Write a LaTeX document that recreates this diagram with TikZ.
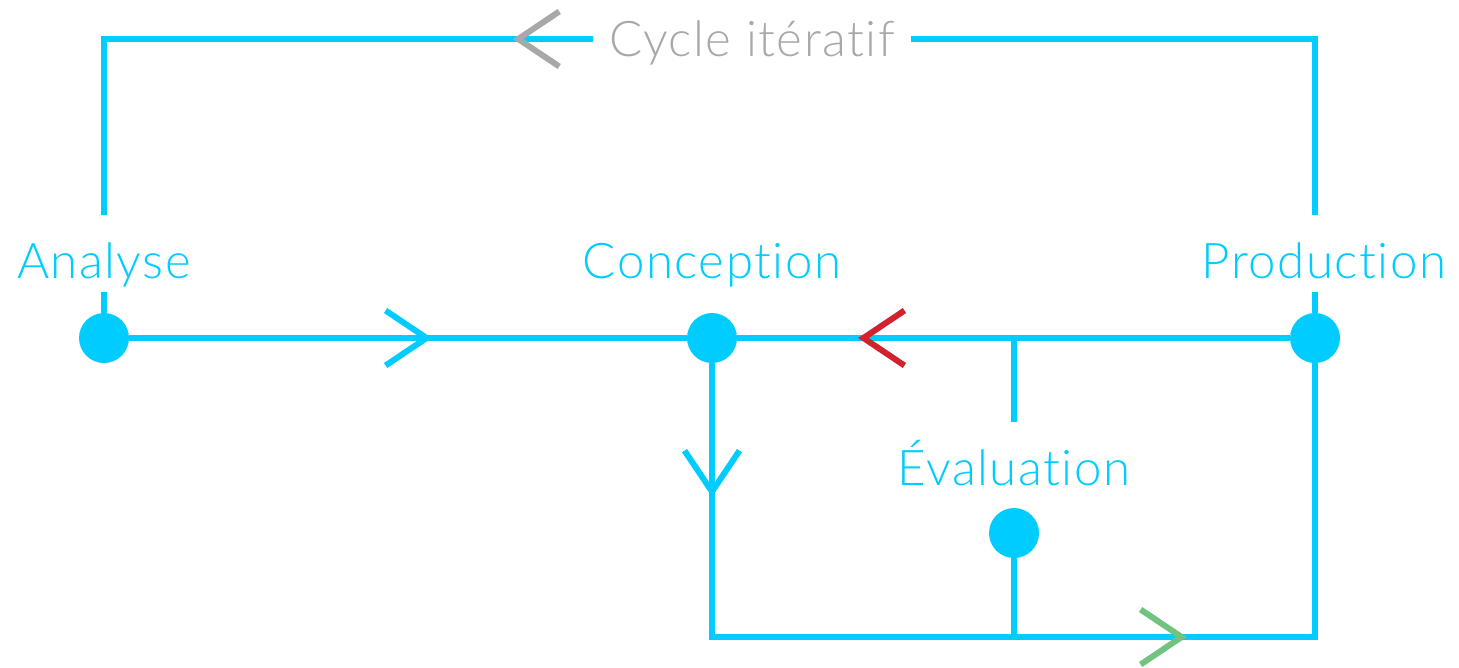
\documentclass[tikz,border=0pt]{standalone}
\usepackage{fontspec}
\IfFontExistsTF{Lato Light}
  {\setmainfont{Lato Light}[Ligatures=NoCommon, LetterSpace=3]}
  {\setmainfont{Lato}[Ligatures=NoCommon, LetterSpace=3]}
\usetikzlibrary{arrows.meta,decorations.markings,positioning}

\definecolor{sky}{RGB}{0,204,255}
\definecolor{loopgray}{RGB}{168,168,168}
\definecolor{backred}{RGB}{210,34,46}
\definecolor{fwdgreen}{RGB}{112,196,128}

\newcommand{\phasefont}{\fontsize{28}{32}\selectfont}

\begin{document}
\begin{tikzpicture}[x=0.02cm, y=-0.02cm, node distance=0.42cm]

\tikzstyle{dot} = [circle, fill=sky, minimum size=1cm, inner sep=0pt, outer sep=0pt]
\tikzstyle{phase} = [rectangle, text=sky, font=\phasefont, inner xsep=0.32cm, inner ysep=0pt, outer sep=0pt, text height=1.26cm, text depth=0.28cm]
\tikzstyle{loop} = [phase, text=loopgray, text height=0.88cm, text depth=0.2cm]
\tikzstyle{wire} = [draw=sky, line width=3.4pt]
\tikzset{chev/.tip={Straight Barb[length=0.82cm, width=1.1cm, line cap=butt, line join=miter]}}
\tikzset{flow/.style 2 args={postaction={decorate}, decoration={markings, mark=at position #1 with {\arrow[#2]{chev}}}}}

\useasboundingbox (0,0) rectangle (1459,667);

%% -- phases --
\node (ana) [dot] at (104,338) {};
\node (con) [dot] at (712,338) {};
\node (pro) [dot] at (1315,338) {};
\node (eva) [dot] at (1014,533) {};

\node (ana_lbl) [phase, above=of ana] {Analyse};
\node (con_lbl) [phase, above=of con] {Conception};
\node (pro_lbl) [phase, above=of pro, xshift=0.18cm] {Production};
\node (eva_lbl) [phase, above=0.18cm of eva] {Évaluation};
\node (cycle) [loop] at (752,39) {Cycle itératif};

\coordinate (eva_top) at (1014,338);
\coordinate (eva_bot) at (1014,637);

%% -- forward flow --
\draw [wire, flow={6.06cm}{sky}] (ana) -- (con);
\draw [wire, flow={2.68cm}{sky}] (con) |- (eva_bot);
\draw [wire, flow={3.46cm}{fwdgreen}] (eva_bot) -| (pro);

% back to conception
\draw [wire, flow={8.64cm}{backred}] (pro) -- (con);
\draw [wire] (eva_top) -- (eva_lbl);
\draw [wire] (eva) -- (eva_bot);

%% -- iterative loop --
\draw [wire] (pro) -- (pro |- pro_lbl.south);
\draw [wire] (pro |- pro_lbl.north) |- (cycle);
\draw [wire, flow={-11.7cm}{loopgray}] (cycle) -| (ana_lbl);
\draw [wire] (ana_lbl) -- (ana);

\end{tikzpicture}
\end{document}
